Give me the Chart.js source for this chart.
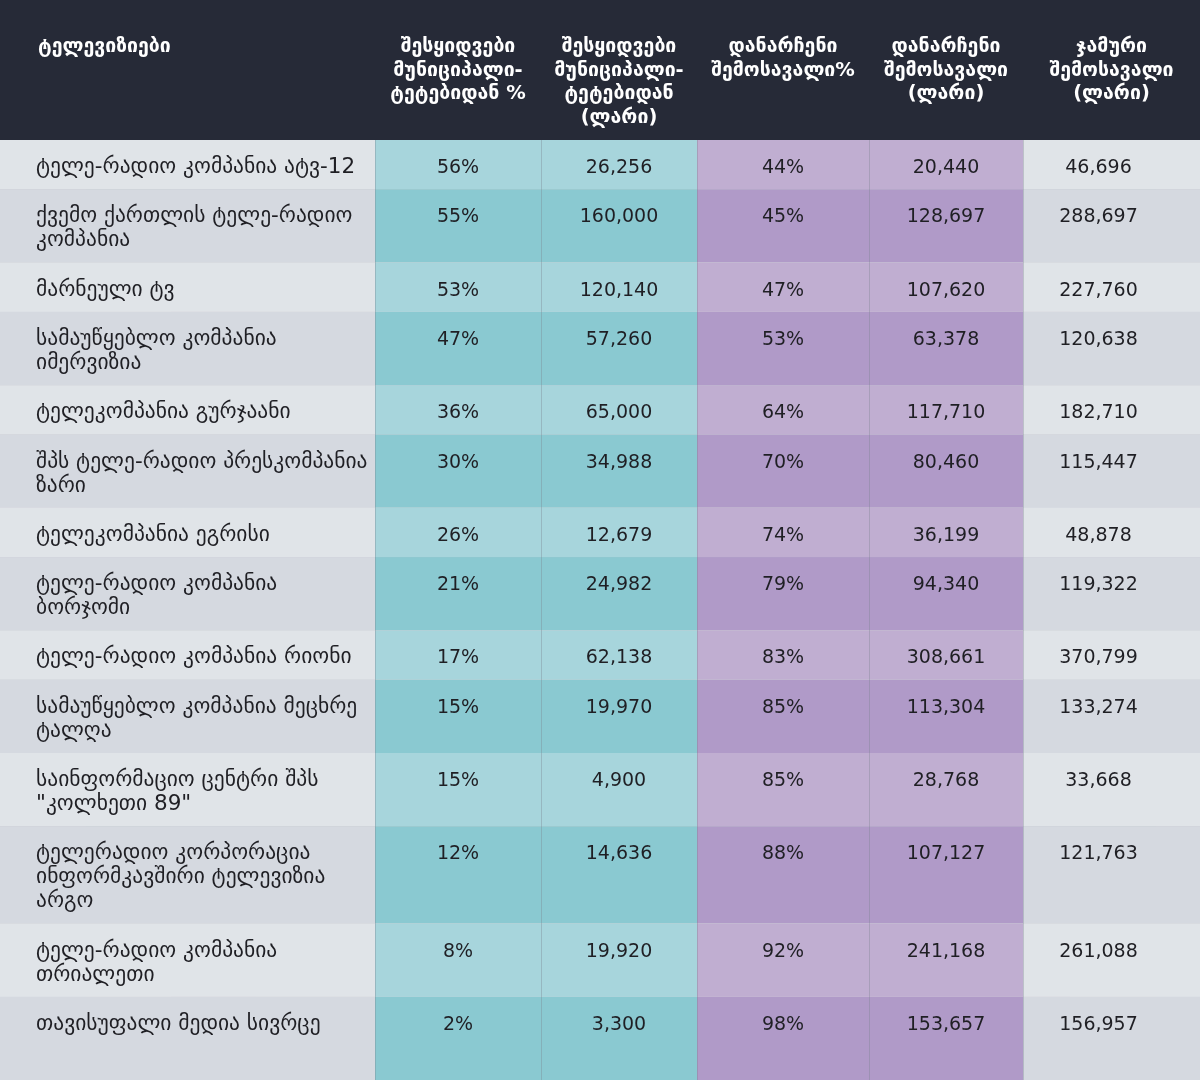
<!DOCTYPE html>
<html>
<head>
<meta charset="utf-8">
<script src="https://cdn.jsdelivr.net/npm/chart.js@4"></script>
<style>
  html, body { margin: 0; padding: 0; background: #fff; }
  canvas { display: block; }
</style>
</head>
<body>
<canvas id="tableChart" width="1200" height="1080"></canvas>
<script>
// Données du tableau
const headers = [
  ['ტელევიზიები'],
  ['შესყიდვები', 'მუნიციპალი-', 'ტეტებიდან %'],
  ['შესყიდვები', 'მუნიციპალი-', 'ტეტებიდან', '(ლარი)'],
  ['დანარჩენი', 'შემოსავალი%'],
  ['დანარჩენი', 'შემოსავალი', '(ლარი)'],
  ['ჯამური', 'შემოსავალი', '(ლარი)']
];
const channels = [
  'ტელე-რადიო კომპანია ატვ-12',
  'ქვემო ქართლის ტელე-რადიო\nკომპანია',
  'მარნეული ტვ',
  'სამაუწყებლო კომპანია\nიმერვიზია',
  'ტელეკომპანია გურჯაანი',
  'შპს ტელე-რადიო პრესკომპანია\nზარი',
  'ტელეკომპანია ეგრისი',
  'ტელე-რადიო კომპანია\nბორჯომი',
  'ტელე-რადიო კომპანია რიონი',
  'სამაუწყებლო კომპანია მეცხრე\nტალღა',
  'საინფორმაციო ცენტრი შპს\n"კოლხეთი 89"',
  'ტელერადიო კორპორაცია\nინფორმკავშირი ტელევიზია\nარგო',
  'ტელე-რადიო კომპანია\nთრიალეთი',
  'თავისუფალი მედია სივრცე'
];
const shareMunicipal = [56, 55, 53, 47, 36, 30, 26, 21, 17, 15, 15, 12, 8, 2];
const municipal = [26256, 160000, 120140, 57260, 65000, 34988, 12679, 24982, 62138, 19970, 4900, 14636, 19920, 3300];
const shareOther = [44, 45, 47, 53, 64, 70, 74, 79, 83, 85, 85, 88, 92, 98];
const other = [20440, 128697, 107620, 63378, 117710, 80460, 36199, 94340, 308661, 113304, 28768, 107127, 241168, 153657];
const total = [46696, 288697, 227760, 120638, 182710, 115447, 48878, 119322, 370799, 133274, 33668, 121763, 261088, 156957];

// Mise en page (unités des échelles = pixels)
const colEdges = [0, 375, 541, 697, 869, 1023, 1200];
const headerHeight = 140;
const lineHeight = 24;
const rowPad = 25.3;

const fmt = n => n.toLocaleString('en-US');

const tablePlugin = {
  id: 'table',
  afterDraw(chart) {
    const { ctx, scales: { x, y } } = chart;
    const X = v => x.getPixelForValue(v);
    const Y = v => y.getPixelForValue(v);
    ctx.save();
    // En-tête
    ctx.fillStyle = '#262a37';
    ctx.fillRect(X(0), Y(0), X(1200) - X(0), Y(headerHeight) - Y(0));
    ctx.fillStyle = '#ffffff';
    ctx.font = 'bold 19.5px "DejaVu Sans"';
    ctx.textBaseline = 'alphabetic';
    headers.forEach((lines, c) => {
      const left = c === 0;
      ctx.textAlign = left ? 'left' : 'center';
      const cx = left ? colEdges[0] + 38 : (colEdges[c] + colEdges[c + 1]) / 2;
      lines.forEach((t, i) => ctx.fillText(t, X(cx), Y(52 + i * 23.5)));
    });

    // Lignes
    let top = headerHeight;
    channels.forEach((name, r) => {
      const nameLines = name.split('\n');
      let h = rowPad + nameLines.length * lineHeight;
      if (r === channels.length - 1) h = 1080 - top;
      const even = r % 2 === 0;
      const fills = even
        ? ['#e0e4e8', '#a7d5dc', '#a7d5dc', '#c0aed1', '#c0aed1', '#e0e4e8']
        : ['#d5d9e0', '#8ac9d1', '#8ac9d1', '#b09ac8', '#b09ac8', '#d5d9e0'];
      fills.forEach((f, c) => {
        ctx.fillStyle = f;
        ctx.fillRect(X(colEdges[c]), Y(top), X(colEdges[c + 1]) - X(colEdges[c]), Y(top + h) - Y(top));
      });
      ctx.fillStyle = '#1f1f24';
      ctx.font = '500 21.5px "DejaVu Sans"';
      ctx.textAlign = 'left';
      nameLines.forEach((t, i) => ctx.fillText(t, X(36), Y(top + 33 + i * lineHeight)));
      ctx.font = '19px "DejaVu Sans"';
      const vals = [shareMunicipal[r] + '%', fmt(municipal[r]), shareOther[r] + '%', fmt(other[r]), fmt(total[r])];
      ctx.textAlign = 'center';
      vals.forEach((v, i) => {
        const c = i + 1;
        ctx.fillText(v, X((colEdges[c] + colEdges[c + 1]) / 2 - (c === 5 ? 13 : 0)), Y(top + 33));
      });
      // séparateur
      ctx.strokeStyle = '#b8bcc4';
      ctx.lineWidth = 1;
      ctx.beginPath();
      ctx.moveTo(X(0), Y(top + h) + 0.5);
      ctx.lineTo(X(1200), Y(top + h) + 0.5);
      ctx.stroke();
      top += h;
    });
    // séparateurs verticaux
    ctx.strokeStyle = 'rgba(120,130,140,0.35)';
    colEdges.slice(1, -1).forEach(e => {
      ctx.beginPath();
      ctx.moveTo(X(e) + 0.5, Y(headerHeight));
      ctx.lineTo(X(e) + 0.5, Y(1080));
      ctx.stroke();
    });
    ctx.restore();
  }
};

new Chart(document.getElementById('tableChart').getContext('2d'), {
  type: 'scatter',
  data: { datasets: [{ data: [] }] },
  options: {
    responsive: false,
    animation: false,
    layout: { padding: 0 },
    plugins: { legend: { display: false }, tooltip: { enabled: false } },
    scales: {
      x: { type: 'linear', min: 0, max: 1200, display: false },
      y: { type: 'linear', min: 0, max: 1080, reverse: true, display: false }
    }
  },
  plugins: [tablePlugin]
});
</script>
</body>
</html>
